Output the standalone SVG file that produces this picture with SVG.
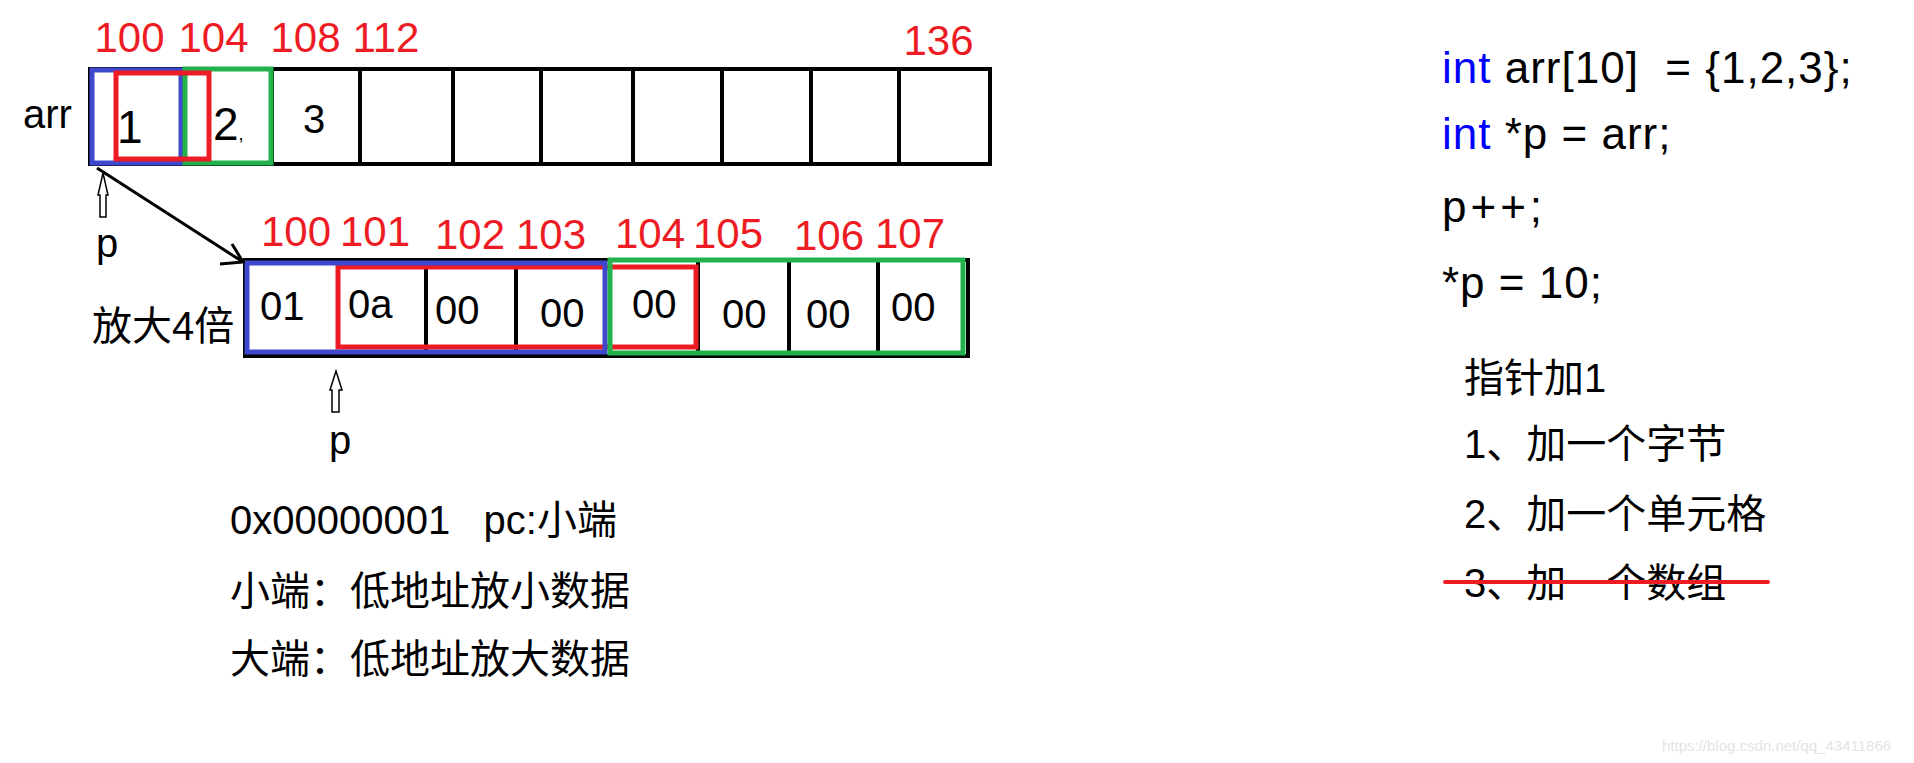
<svg xmlns="http://www.w3.org/2000/svg" width="1914" height="763" viewBox="0 0 1914 763">
<style>
text{font-family:"Liberation Sans","Noto Sans CJK SC",sans-serif;fill:#000;white-space:pre}
.lbl{fill:#ed1c24;font-size:42px}
.v{font-size:40px}
.code{font-size:44px;letter-spacing:1px}
.grid{fill:none;stroke:#000;stroke-width:4}
.blue{fill:none;stroke:#3f48cc;stroke-width:5}
.red{fill:none;stroke:#ed1c24;stroke-width:5}
.green{fill:none;stroke:#22b14c;stroke-width:5}
.hollow{fill:#fff;stroke:#000;stroke-width:1.5}
.kw{fill:#0000ff}
</style>
<rect width="1914" height="763" fill="#fff"/>

<g id="top-array">
  <rect class="grid" x="90" y="69" width="900" height="95"/>
  <path class="grid" d="M272 69V164M360 69V164M453 69V164M541 69V164M633 69V164M722 69V164M811 69V164M899 69V164"/>
  <rect class="blue" x="92" y="70" width="89" height="93"/>
  <rect class="green" x="185" y="69" width="86" height="94"/>
  <rect class="red" x="116" y="73" width="93" height="86"/>
  <text x="23" y="128" style="font-size:40px">arr</text>
  <text x="117" y="143" style="font-size:46px">1</text>
  <text x="213" y="140" style="font-size:46px">2<tspan style="font-size:18px">,</tspan></text>
  <text x="303" y="133" class="v">3</text>
  <text class="lbl" x="94.5" y="52">100</text>
  <text class="lbl" x="178.5" y="52">104</text>
  <text class="lbl" x="270.5" y="52">108</text>
  <text class="lbl" x="352.5" y="52">112</text>
  <text class="lbl" x="903.5" y="55">136</text>
</g>

<g id="bottom-array">
  <rect class="grid" x="245" y="260" width="723" height="96"/>
  <path class="grid" d="M426 260V356M516 260V356M698 260V358M789 260V356M878 260V356"/>
  <rect class="red" x="338" y="267" width="358" height="80"/>
  <rect class="blue" x="247" y="263" width="358" height="89"/>
  <rect class="green" x="610" y="260" width="353" height="93"/>
  <text class="lbl" x="261" y="246">100</text>
  <text class="lbl" x="340" y="246">101</text>
  <text class="lbl" x="435" y="249">102</text>
  <text class="lbl" x="516" y="249">103</text>
  <text class="lbl" x="615" y="248">104</text>
  <text class="lbl" x="693" y="248">105</text>
  <text class="lbl" x="794" y="250">106</text>
  <text class="lbl" x="875" y="248">107</text>
  <text class="v" x="260" y="320">01</text>
  <text class="v" x="348" y="318">0a</text>
  <text class="v" x="435" y="324">00</text>
  <text class="v" x="540" y="327">00</text>
  <text class="v" x="632" y="318">00</text>
  <text class="v" x="722" y="328">00</text>
  <text class="v" x="806" y="328">00</text>
  <text class="v" x="891" y="321">00</text>
  <text x="92" y="340" style="font-size:40px">放大4倍</text>
</g>

<g id="connectors">
  <path d="M97 168L243 262M232 244L243 262L220 264" fill="none" stroke="#000" stroke-width="3"/>
</g>

<g id="pointer-top">
  <polygon class="hollow" points="103,173 108,195 106,195 106,217 100,217 100,195 98,195"/>
  <text x="96" y="257" style="font-size:40px">p</text>
</g>

<g id="pointer-bottom">
  <polygon class="hollow" points="336,371 342,390 339,390 339,412 332,412 332,390 330,390"/>
  <text x="329" y="454" style="font-size:40px">p</text>
</g>

<g id="notes-left">
  <text x="230" y="534" style="font-size:40px">0x00000001   pc:小端</text>
  <text x="230" y="605" style="font-size:40px">小端：低地址放小数据</text>
  <text x="230" y="673" style="font-size:40px">大端：低地址放大数据</text>
</g>

<g id="code">
  <text class="code" x="1442" y="83"><tspan class="kw">int</tspan> arr[10]  = {1,2,3};</text>
  <text class="code" x="1442" y="149"><tspan class="kw">int</tspan> *p = arr;</text>
  <text class="code" x="1442" y="222" style="letter-spacing:4px">p++;</text>
  <text class="code" x="1442" y="298">*p = 10;</text>
</g>

<g id="notes-right">
  <text x="1464" y="392" style="font-size:40px">指针加1</text>
  <text x="1464" y="458" style="font-size:40px">1、加一个字节</text>
  <text x="1464" y="528" style="font-size:40px">2、加一个单元格</text>
  <text x="1464" y="597" style="font-size:40px">3、加一个数组</text>
  <line x1="1445" y1="582" x2="1768" y2="582" stroke="#ed1c24" stroke-width="4" stroke-linecap="round"/>
</g>

<text x="1662" y="751" style="font-size:15px;fill:#e4e4e4">https://blog.csdn.net/qq_43411866</text>
</svg>
